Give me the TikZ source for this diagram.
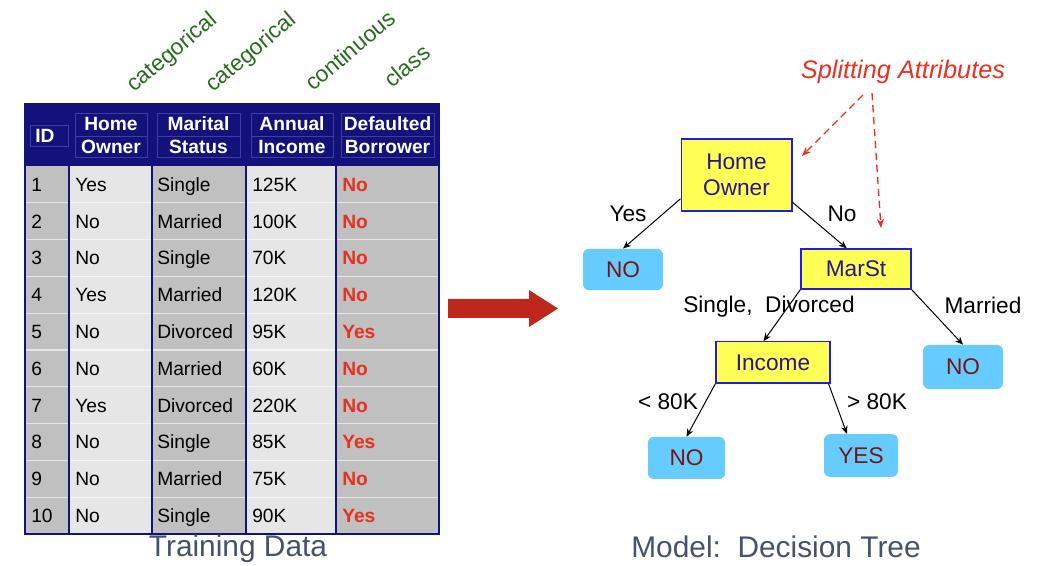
\documentclass[tikz,border=0pt]{standalone}
\usepackage{fontspec}
\setmainfont{Liberation Sans}
\usetikzlibrary{arrows.meta}
\definecolor{hdrBlue}{RGB}{18,18,122}
\definecolor{hdrLine}{RGB}{62,62,158}
\definecolor{cellGray}{RGB}{192,192,192}
\definecolor{cellLight}{RGB}{230,230,230}
\definecolor{noRed}{RGB}{232,48,32}
\definecolor{typeGreen}{RGB}{38,108,28}
\definecolor{splitYellow}{RGB}{255,255,85}
\definecolor{splitBlue}{RGB}{30,30,225}
\definecolor{splitText}{RGB}{40,20,140}
\definecolor{leafBlue}{RGB}{102,204,255}
\definecolor{leafRed}{RGB}{120,20,20}
\definecolor{capGray}{RGB}{70,82,108}
\definecolor{bigRed}{RGB}{190,40,28}
\begin{document}
\begin{tikzpicture}[x=0.75pt,y=-0.75pt,>={Stealth[length=6pt,width=5pt]},thin,
		cell/.style={anchor=base west,inner sep=0pt,font=\fontsize{14.4}{17}\selectfont},
		class cell/.style={cell,text=noRed,font=\fontsize{14.4}{17}\selectfont\bfseries},
		head cell/.style={text=white,align=center,inner sep=0pt,font=\fontsize{14.4}{17.25}\selectfont\bfseries},
		type label/.style={anchor=base west,rotate=40,inner sep=0pt,text=typeGreen,font=\fontsize{17}{19}\selectfont},
		split node/.style={draw=splitBlue,fill=splitYellow,text=splitText,line width=1pt,align=center,inner sep=0pt,font=\fontsize{17}{19.5}\selectfont},
		leaf node/.style={fill=leafBlue,text=leafRed,rounded corners=4.5pt,inner sep=0pt,font=\fontsize{17}{20}\selectfont},
		branch/.style={->,black,line width=0.75pt},
		branch label/.style={inner sep=0pt,font=\fontsize{17}{20}\selectfont},
		hint/.style={-{Stealth[length=7pt,width=5.5pt]},noRed,line width=1pt,dash pattern=on 5.5pt off 3.5pt},
		caption/.style={text=capGray,inner sep=0pt,font=\fontsize{22.4}{26}\selectfont}]

	\useasboundingbox (0,0) rectangle (1040,566);

	% training table
	\fill[hdrBlue] (25,104) rectangle (439,166);
	\fill[cellGray] (25,166) rectangle (69,534);
	\fill[cellLight] (69,166) rectangle (152,534);
	\fill[cellGray] (152,166) rectangle (246,534);
	\fill[cellLight] (246,166) rectangle (336,534);
	\fill[cellGray] (336,166) rectangle (439,534);
	\foreach \r in {1,...,9}
		\draw[white,opacity=.6,line width=1pt] (25,{166+36.8*\r}) -- (439,{166+36.8*\r});
	\foreach \c in {69,152,246,336}
		\draw[hdrBlue,line width=1pt] (\c,104) -- (\c,534);
	\draw[hdrBlue,line width=1.2pt] (25,104) rectangle (439,534);

	\draw[hdrLine] (30,125) rectangle (68,146);
	\draw[hdrLine] (75,113) rectangle (147,157) (75,136) -- (147,136);
	\draw[hdrLine] (157,113) rectangle (240,157) (157,136) -- (240,136);
	\draw[hdrLine] (251,113) rectangle (333,157) (251,136) -- (333,136);
	\draw[hdrLine] (341,113) rectangle (434,157) (341,136) -- (434,136);

	\node [head cell] (head-id) at (45,135.5) {ID};
	\node [head cell] (head-home) at (111,135.5) {Home\\Owner};
	\node [head cell] (head-marital) at (198.5,135.5) {Marital\\Status};
	\node [head cell] (head-income) at (292,135.5) {Annual\\Income};
	\node [head cell] (head-class) at (387.5,135.5) {Defaulted\\Borrower};

	\foreach \id/\home/\mar/\inc/\cls in {1/Yes/Single/125K/No,2/No/Married/100K/No,
			3/No/Single/70K/No,4/Yes/Married/120K/No,5/No/Divorced/95K/Yes,
			6/No/Married/60K/No,7/Yes/Divorced/220K/No,8/No/Single/85K/Yes,
			9/No/Married/75K/No,10/No/Single/90K/Yes}{
		\node [cell] (id-\id) at (31,{166+36.8*(\id-0.5)+7}) {\id};
		\node [cell] (home-\id) at (75,{166+36.8*(\id-0.5)+7}) {\home};
		\node [cell] (mar-\id) at (157,{166+36.8*(\id-0.5)+7}) {\mar};
		\node [cell] (inc-\id) at (252,{166+36.8*(\id-0.5)+7}) {\inc};
		\node [class cell] (cls-\id) at (342,{166+36.8*(\id-0.5)+7}) {\cls};
	}

	\node [type label] (type-home) at (134,93) {categorical};
	\node [type label] (type-marital) at (213,93) {categorical};
	\node [type label] (type-income) at (313,92) {continuous};
	\node [type label] (type-class) at (392,89) {class};

	\node [caption] (cap-train) at (238,549) {Training Data};

	% arrow between table and tree
	\fill[bigRed] (448,299) -- (529,299) -- (529,290) -- (558,308.5) -- (529,327)
		-- (529,318) -- (448,318) -- cycle;

	% decision tree
	\node [split node, minimum width=83pt, minimum height=54pt] (home) at (736.5,175) {Home\\Owner};
	\node [leaf node, minimum width=60pt, minimum height=31pt] (leaf-yes) at (623,269.5) {NO};
	\node [split node, minimum width=82.5pt, minimum height=30pt] (marst) at (856,269) {MarSt};
	\node [split node, minimum width=85.5pt, minimum height=31pt] (income) at (773,362.5) {Income};
	\node [leaf node, minimum width=60pt, minimum height=33pt] (leaf-married) at (963,367) {NO};
	\node [leaf node, minimum width=58pt, minimum height=31.5pt] (leaf-low) at (686.5,458) {NO};
	\node [leaf node, minimum width=55.5pt, minimum height=32pt] (leaf-high) at (861,455.5) {YES};

	\draw [branch] (home.203) -- (leaf-yes.north);
	\draw [branch] (home.-26) -- (marst.114);
	\draw [branch] (marst.south west) -- (income.114);
	\draw [branch] (marst.south east) -- (leaf-married.north);
	\draw [branch] (income.south west) -- (leaf-low.north);
	\draw [branch] (income.-21.5) -- (leaf-high.123);

	\node [branch label] (lab-yes) at (628,214) {Yes};
	\node [branch label] (lab-no) at (842,214) {No};
	\node [branch label] (lab-single) at (769,307) {Single,\ \ Divorced};
	\node [branch label] (lab-married) at (983,305) {Married};
	\node [branch label] (lab-low) at (668,402) {< 80K};
	\node [branch label] (lab-high) at (877,402) {> 80K};

	\node [text=noRed,inner sep=0pt,font=\fontsize{19}{22}\selectfont\itshape] (split) at (903,72) {Splitting Attributes};
	\coordinate (split-a) at (863,95);
	\coordinate (split-b) at (872,93);
	\coordinate (hint-home) at (802,156);
	\coordinate (hint-marst) at (881,228);
	\draw [hint] (split-a) -- (hint-home);
	\draw [hint] (split-b) -- (hint-marst);

	\node [caption] (cap-model) at (776,547) {Model:\ \ Decision Tree};
\end{tikzpicture}
\end{document}
